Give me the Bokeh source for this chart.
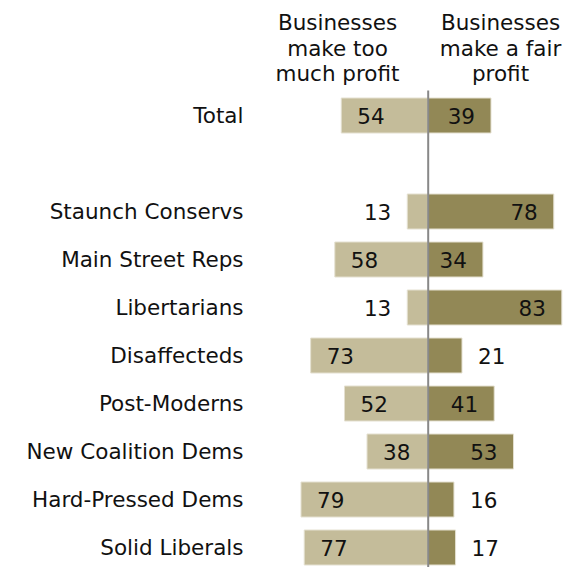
from bokeh.plotting import figure
from bokeh.models import ColumnDataSource, Range1d
from bokeh.core.properties import value
from bokeh.embed import file_html
from bokeh.resources import INLINE

groups = ["Total", "Staunch Conservs", "Main Street Reps", "Libertarians", "Disaffecteds",
          "Post-Moderns", "New Coalition Dems", "Hard-Pressed Dems", "Solid Liberals"]
too_much = [54, 13, 58, 13, 73, 52, 38, 79, 77]
fair = [39, 78, 34, 83, 21, 41, 53, 16, 17]
rows = [2, 0, -1, -2, -3, -4, -5, -6, -7]
header_left = ["Businesses", "make too", "much profit"]
header_right = ["Businesses", "make a fair", "profit"]

W, H = 574, 567
PX = 1.61          # pixels per percentage point
CX = 427.7         # center line x in px
ROWPX = 48.0
Y0 = 211.0         # px of row 0 (from top)
LIGHT = "#C4BC9A"
DARK = "#928856"
FONT = "DejaVu Sans"
FS = "21.5px"
TXT = "#111111"

xs = -CX / PX
xe = (W - CX) / PX
ys_top = Y0 / ROWPX
ys_bot = -(H - Y0) / ROWPX


def ypx(py):
    return ys_top - py / ROWPX


def xpx(px):
    return (px - CX) / PX


p = figure(width=W, height=H, output_backend="svg", toolbar_location=None,
           x_range=Range1d(xs, xe), y_range=Range1d(ys_bot, ys_top),
           min_border=0, outline_line_color=None)
p.axis.visible = False
p.grid.visible = False
p.background_fill_color = "white"
p.border_fill_color = "white"

bh = 35 / ROWPX
left = ColumnDataSource(dict(y=rows, l=[-v for v in too_much], r=[0] * len(rows), v=too_much))
right = ColumnDataSource(dict(y=rows, l=[0] * len(rows), r=fair, v=fair))
p.hbar(y="y", left="l", right="r", height=bh, source=left, fill_color=LIGHT,
       line_color="#E4E0D0", line_width=1)
p.hbar(y="y", left="l", right="r", height=bh, source=right, fill_color=DARK,
       line_color="#E4E0D0", line_width=1)

# center line
p.segment(x0=[0], x1=[0], y0=[ypx(90)], y1=[ys_bot - 1], line_color="#888888", line_width=2)

OFF = 16
INSIDE_MIN = 25
li_x, li_y, li_t, lo_x, lo_y, lo_t = [], [], [], [], [], []
for v, y in zip(too_much, rows):
    if v >= INSIDE_MIN:
        li_x.append(-v); li_y.append(y); li_t.append(str(v))
    else:
        lo_x.append(-v); lo_y.append(y); lo_t.append(str(v))
p.text(x=li_x, y=li_y, text=li_t, text_align="left", text_baseline="middle", x_offset=OFF,
       text_font=value(FONT), text_font_size=FS, text_color=TXT)
p.text(x=lo_x, y=lo_y, text=lo_t, text_align="right", text_baseline="middle", x_offset=-OFF,
       text_font=value(FONT), text_font_size=FS, text_color=TXT)
ri_x, ri_y, ri_t, ro_x, ro_y, ro_t = [], [], [], [], [], []
for v, y in zip(fair, rows):
    if v >= INSIDE_MIN:
        ri_x.append(v); ri_y.append(y); ri_t.append(str(v))
    else:
        ro_x.append(v); ro_y.append(y); ro_t.append(str(v))
p.text(x=ri_x, y=ri_y, text=ri_t, text_align="right", text_baseline="middle", x_offset=-OFF,
       text_font=value(FONT), text_font_size=FS, text_color=TXT)
p.text(x=ro_x, y=ro_y, text=ro_t, text_align="left", text_baseline="middle", x_offset=OFF,
       text_font=value(FONT), text_font_size=FS, text_color=TXT)

# category labels
p.text(x=[xpx(243)] * len(groups), y=rows, text=groups, text_align="right", text_baseline="middle",
       text_font=value(FONT), text_font_size=FS, text_color=TXT)

# headers
hy = [ypx(22), ypx(48), ypx(73)]
p.text(x=[xpx(337)] * 3, y=hy, text=header_left, text_align="center", text_baseline="middle",
       text_font=value(FONT), text_font_size=FS, text_color=TXT)
p.text(x=[xpx(500)] * 3, y=hy, text=header_right, text_align="center", text_baseline="middle",
       text_font=value(FONT), text_font_size=FS, text_color=TXT)

open("out.html", "w").write(file_html(p, INLINE))
